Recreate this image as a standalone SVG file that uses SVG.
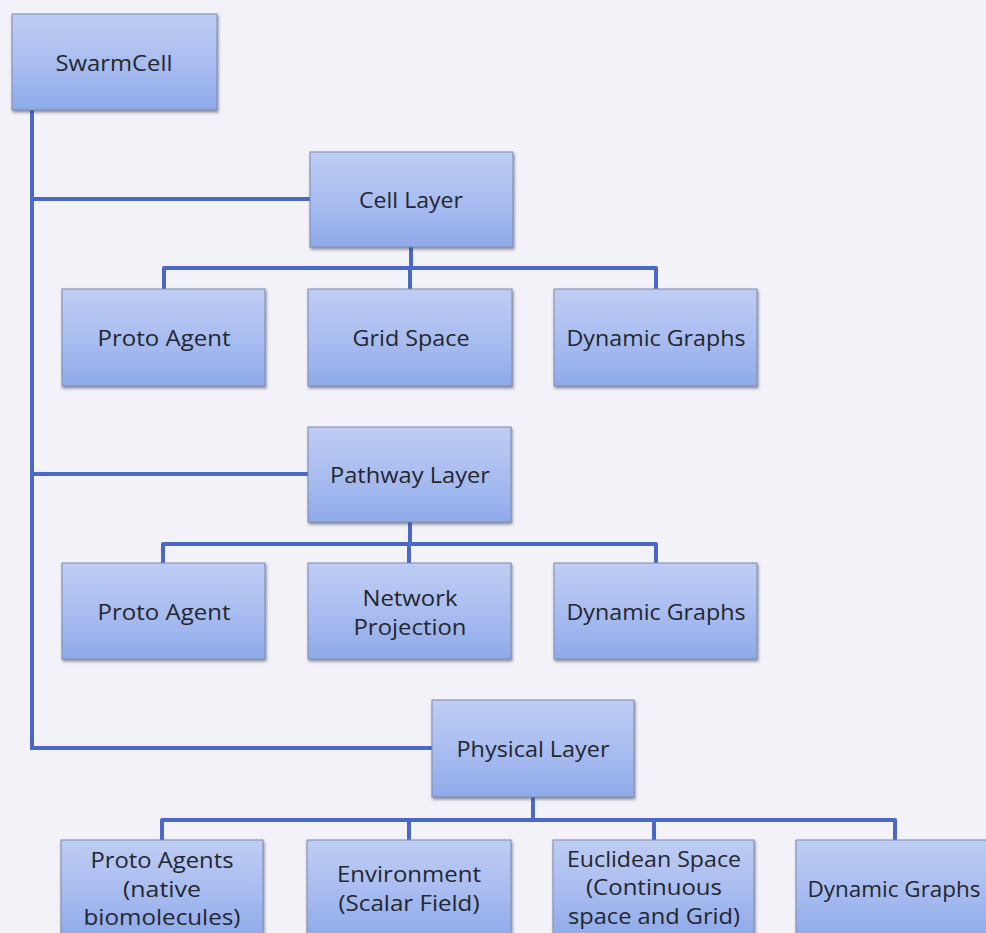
<svg xmlns="http://www.w3.org/2000/svg" width="986" height="933" viewBox="0 0 986 933">
  <defs>
    <linearGradient id="boxFill" x1="0" y1="0" x2="0" y2="1">
      <stop offset="0" stop-color="#bfcdf3"/>
      <stop offset="0.5" stop-color="#a9bdf0"/>
      <stop offset="1" stop-color="#8faaea"/>
    </linearGradient>
    <filter id="shadow" x="-10%" y="-10%" width="120%" height="130%">
      <feDropShadow dx="1" dy="2" stdDeviation="1.5" flood-color="#3c4560" flood-opacity="0.6"/>
    </filter>
  </defs>
  <style>
    .box { fill: url(#boxFill); stroke: #7f8bae; stroke-width: 1; filter: url(#shadow); }
    .label { font-family: "Open Sans", "Liberation Sans", sans-serif; font-size: 22.5px; fill: #24262e; text-anchor: middle; dominant-baseline: central; }
    .wire { fill: none; stroke: #4a68c4; stroke-width: 4; stroke-linejoin: round; stroke-linecap: butt; }
  </style>

  <!-- page -->
  <rect x="0" y="0" width="986" height="933" fill="#f3f2f8"/>

  <!-- connectors -->
  <g id="connectors">
    <!-- trunk from the root down the left side -->
    <path class="wire" d="M32 110 V748"/>
    <path class="wire" d="M32 199 H310"/>
    <path class="wire" d="M32 474 H308"/>
    <path class="wire" d="M30 748 H432"/>
    <!-- cell layer children -->
    <path class="wire" d="M411 247 V268"/>
    <path class="wire" d="M164 289 V268 H656 V289"/>
    <path class="wire" d="M410 268 V289"/>
    <!-- pathway layer children -->
    <path class="wire" d="M410 522 V544"/>
    <path class="wire" d="M163 563 V544 H656 V563"/>
    <path class="wire" d="M409 544 V563"/>
    <!-- physical layer children -->
    <path class="wire" d="M533 797 V820"/>
    <path class="wire" d="M162 840 V820 H895 V840"/>
    <path class="wire" d="M409 820 V840"/>
    <path class="wire" d="M654 820 V840"/>
  </g>

  <!-- root -->
  <g id="swarmcell">
    <rect class="box" x="12" y="14" width="205" height="96"/>
    <text class="label" x="114" y="62" textLength="117" lengthAdjust="spacingAndGlyphs">SwarmCell</text>
  </g>

  <!-- cell layer -->
  <g id="cell-layer">
    <rect class="box" x="310" y="152" width="203" height="95"/>
    <text class="label" x="411" y="199" textLength="104" lengthAdjust="spacingAndGlyphs">Cell Layer</text>
  </g>
  <g id="cell-proto-agent">
    <rect class="box" x="62" y="289" width="203" height="97"/>
    <text class="label" x="164" y="337" textLength="133" lengthAdjust="spacingAndGlyphs">Proto Agent</text>
  </g>
  <g id="cell-grid-space">
    <rect class="box" x="308" y="289" width="204" height="97"/>
    <text class="label" x="411" y="337" textLength="117" lengthAdjust="spacingAndGlyphs">Grid Space</text>
  </g>
  <g id="cell-dynamic-graphs">
    <rect class="box" x="554" y="289" width="203" height="97"/>
    <text class="label" x="656" y="337" textLength="179" lengthAdjust="spacingAndGlyphs">Dynamic Graphs</text>
  </g>

  <!-- pathway layer -->
  <g id="pathway-layer">
    <rect class="box" x="308" y="427" width="203" height="95"/>
    <text class="label" x="410" y="474" textLength="160" lengthAdjust="spacingAndGlyphs">Pathway Layer</text>
  </g>
  <g id="pathway-proto-agent">
    <rect class="box" x="62" y="563" width="203" height="96"/>
    <text class="label" x="164" y="611" textLength="133" lengthAdjust="spacingAndGlyphs">Proto Agent</text>
  </g>
  <g id="pathway-network-projection">
    <rect class="box" x="308" y="563" width="203" height="96"/>
    <text class="label" x="410" y="597" textLength="95" lengthAdjust="spacingAndGlyphs">Network</text>
    <text class="label" x="410" y="626" textLength="113" lengthAdjust="spacingAndGlyphs">Projection</text>
  </g>
  <g id="pathway-dynamic-graphs">
    <rect class="box" x="554" y="563" width="203" height="96"/>
    <text class="label" x="656" y="611" textLength="179" lengthAdjust="spacingAndGlyphs">Dynamic Graphs</text>
  </g>

  <!-- physical layer -->
  <g id="physical-layer">
    <rect class="box" x="432" y="700" width="202" height="97"/>
    <text class="label" x="533" y="748" textLength="153" lengthAdjust="spacingAndGlyphs">Physical Layer</text>
  </g>
  <g id="physical-proto-agents">
    <rect class="box" x="61" y="840" width="202" height="97"/>
    <text class="label" x="162" y="859" textLength="143" lengthAdjust="spacingAndGlyphs">Proto Agents</text>
    <text class="label" x="162" y="888" textLength="78" lengthAdjust="spacingAndGlyphs">(native</text>
    <text class="label" x="162" y="916" textLength="157" lengthAdjust="spacingAndGlyphs">biomolecules)</text>
  </g>
  <g id="physical-environment">
    <rect class="box" x="307" y="840" width="204" height="97"/>
    <text class="label" x="409" y="873" textLength="144" lengthAdjust="spacingAndGlyphs">Environment</text>
    <text class="label" x="409" y="902" textLength="141" lengthAdjust="spacingAndGlyphs">(Scalar Field)</text>
  </g>
  <g id="physical-euclidean-space">
    <rect class="box" x="553" y="840" width="201" height="97"/>
    <text class="label" x="654" y="858" textLength="174" lengthAdjust="spacingAndGlyphs">Euclidean Space</text>
    <text class="label" x="654" y="886" textLength="136" lengthAdjust="spacingAndGlyphs">(Continuous</text>
    <text class="label" x="654" y="915" textLength="172" lengthAdjust="spacingAndGlyphs">space and Grid)</text>
  </g>
  <g id="physical-dynamic-graphs">
    <rect class="box" x="796" y="840" width="204" height="97"/>
    <text class="label" x="894" y="888" textLength="173" lengthAdjust="spacingAndGlyphs">Dynamic Graphs</text>
  </g>
</svg>
